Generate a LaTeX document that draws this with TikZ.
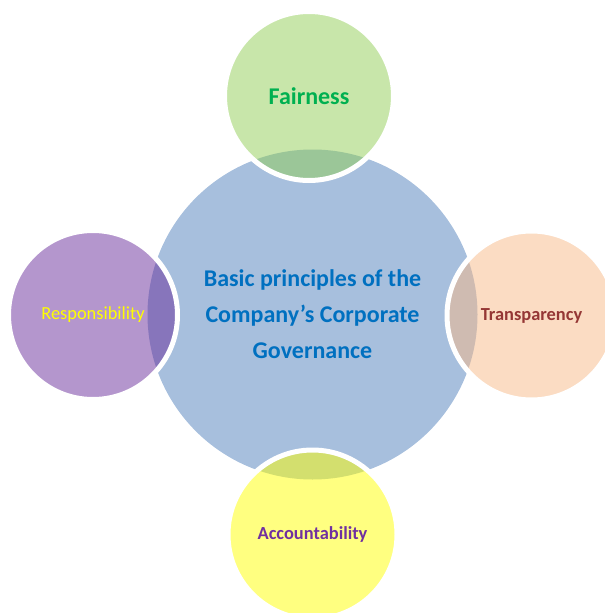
\documentclass[tikz,border=0pt]{standalone}
\usepackage{fontspec}
\setmainfont{Carlito}
\usepackage{xcolor}
\usetikzlibrary{positioning}
\definecolor{hubblue}{RGB}{167,191,221}
\definecolor{fairgreen}{RGB}{145,205,85}
\definecolor{respviolet}{RGB}{105,45,155}
\definecolor{transpeach}{RGB}{247,185,135}
\definecolor{accyellow}{RGB}{255,255,1}
\definecolor{txtblue}{RGB}{0,112,192}
\definecolor{txtgreen}{RGB}{0,176,80}
\definecolor{txtred}{RGB}{149,55,53}
\definecolor{txtpurple}{RGB}{112,48,160}
\definecolor{txtyellow}{RGB}{255,255,0}

\begin{document}
\begin{tikzpicture}
    [x=0.75pt, y=-0.75pt,
     my hub/.style={circle, fill=hubblue, minimum size=247.5pt, inner sep=0pt,
       align=center, text=txtblue, font=\fontsize{18}{27}\selectfont\bfseries},
     my petal/.style={circle, fill=#1, fill opacity=0.5, text opacity=1,
       draw=white, line width=3.75pt, minimum size=126.75pt, inner sep=0pt,
       font=\fontsize{13.8}{16}\selectfont}]
    \useasboundingbox (0,0) rectangle (605,613);
    \node[my hub] (c) at (312.5,314.5)
      {Basic principles of the\\Company’s Corporate\\Governance};

    \node[my petal=fairgreen, text=txtgreen,
      font=\fontsize{18}{20}\selectfont\bfseries] (f) at (309,96) {Fairness};
    \node[my petal=respviolet, text=txtyellow] (r) at (93,315) {Responsibility};
    \node[my petal=transpeach, text=txtred, font=\fontsize{13.8}{16}\selectfont\bfseries]
      (t) at (531.5,315.5) {Transparency};
    \node[my petal=accyellow, text=txtpurple, font=\fontsize{13.8}{16}\selectfont\bfseries]
      (a) at (312.5,534.5) {Accountability};
  \end{tikzpicture}
\end{document}
